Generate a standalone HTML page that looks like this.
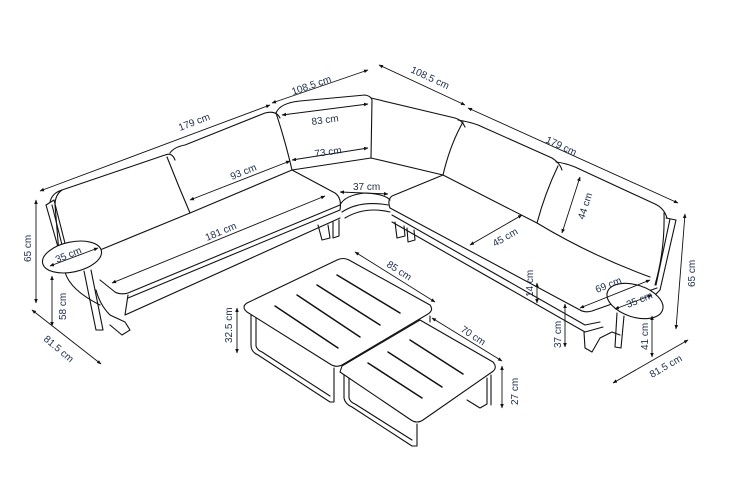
<!DOCTYPE html>
<html><head><meta charset="utf-8"><style>
html,body{margin:0;padding:0;background:#fff;}
svg{display:block;}
text{font-family:"Liberation Sans",sans-serif;font-size:10px;fill:#1c2b4a;}
</style></head><body>
<svg width="732" height="481" viewBox="0 0 732 481" xmlns="http://www.w3.org/2000/svg">
<defs>
<marker id="a" viewBox="0 0 10 10" refX="9" refY="5" markerWidth="5" markerHeight="5" orient="auto-start-reverse"><path d="M0,1 L10,5 L0,9 z" fill="#111"/></marker>
</defs>
<g fill="none" stroke="#111" stroke-width="1.1" stroke-linejoin="round" stroke-linecap="round">
<!-- left sofa back cushions -->
<path d="M50,202 Q52,193 62,190 L165,155 Q172,152 175,160"/>
<path d="M170,153 Q174,147 185,145 L265,113 Q276,110 280,118"/>
<path d="M62,190 Q55,195 55,205 L60,265"/>
<path d="M167,157 Q178,185 190,213"/>
<path d="M276,113 Q285,140 292,170"/>
<path d="M190,213 L100,250"/>
<path d="M190,213 L292,170"/>
<!-- left arm -->
<path d="M46,205 L54,200 L70,263"/>
<path d="M46,205 L64,268"/>
<path d="M52,205 L67,265"/>
<!-- left seat -->
<path d="M292,170 L335,193 Q342,198 340,210"/>
<path d="M100,280 L115,292 Q120,295 128,293 L340,205"/>
<path d="M128,295 L125,315 L340,218"/>
<path d="M128,298 L340,210"/>
<path d="M96,290 Q100,305 110,315 L125,322 L130,330 L122,335 L110,325"/>
<path d="M318,225 L322,240 L330,238 L328,225"/>
<path d="M333,222 L333,238 L339,236 L339,220"/>
<!-- corner -->
<path d="M276,113 Q280,103 300,101 L365,95 Q371,96 372,100 L371,158"/>
<path d="M292,170 L371,158 L443,175"/>
<path d="M340,205 Q345,195 365,193 Q385,194 390,200"/>
<path d="M342,212 Q360,200 388,205"/>
<path d="M345,218 Q365,206 390,212"/>
<!-- right sofa -->
<path d="M371,98 L455,118 Q462,120 465,127"/>
<path d="M458,120 Q470,122 478,125 L552,158 Q560,163 562,170"/>
<path d="M556,162 Q565,163 575,167 L655,204 Q664,208 667,218"/>
<path d="M463,122 Q450,145 443,175"/>
<path d="M558,166 Q545,193 537,223"/>
<path d="M443,175 L537,223 Q590,255 650,277"/>
<path d="M664,213 Q665,250 655,285"/>
<path d="M666,218 L676,220 L660,290 L655,295"/>
<path d="M670,219 L656,285"/>
<path d="M443,175 L392,196 Q387,200 390,208"/>
<path d="M390,208 L580,310 Q585,313 592,311 L657,288"/>
<path d="M392,215 L585,325 L600,322"/>
<path d="M392,222 L585,332 L603,327"/>
<path d="M395,222 L397,238 L405,236 L404,226"/>
<path d="M407,228 L408,242 L415,240 L414,230"/>
<path d="M584,332 L585,348 L592,352 L600,338 L612,332 L620,335"/>
<!-- side tables -->
<path d="M65,272 Q70,290 100,305"/>
<path d="M84,271 L96,330 L103,330 L91,270"/>
<ellipse cx="72" cy="257" rx="30" ry="15" transform="rotate(-12 72 257)" fill="#fff"/>
<path d="M617,313 L615,347 L621,348 L624,316"/>
<ellipse cx="635" cy="301" rx="29" ry="16" transform="rotate(18 635 301)" fill="#fff"/>
<!-- small coffee table -->
<path d="M344,372 L344,398 Q345,404 352,407 L412,446 L417,446 L417,424"/>
<path d="M349,375 L349,398 Q350,402 355,404 L412,440"/>
<path d="M487,378 L487,404 L480,408 L467,400"/>
<path d="M491,375 L491,405"/>
<path d="M342,366 L420,320 L493,362 Q498,368 492,372 L423,420 Q417,424 411,420 L340,372 z" fill="#fff"/>
<path d="M368,363 L422,398 M388,352 L442,387 M410,340 L463,374" stroke-width="1.5"/>
<!-- big coffee table -->
<path d="M251,315 L251,345 Q251,352 258,355 L330,402 L334,402 L334,368"/>
<path d="M256,318 L256,346 Q257,350 262,352 L330,396"/>
<path d="M430,316 L430,322"/>
<path d="M247,303 L337,260 Q343,257 349,260 L430,305 Q434,310 428,314 L342,365 Q336,368 330,364 L247,312 Q241,307 247,303 z" fill="#fff"/>
<path d="M275,306 L338,348 M297,295 L360,337 M317,285 L380,325 M337,275 L400,313" stroke-width="1.5"/>
</g>
<!-- dimension lines -->
<g fill="none" stroke="#111" stroke-width="0.9" marker-start="url(#a)" marker-end="url(#a)">
<line x1="40" y1="191" x2="270" y2="105"/>
<line x1="272" y1="103" x2="368" y2="70"/>
<line x1="379" y1="65" x2="465" y2="105"/>
<line x1="468" y1="108" x2="678" y2="203"/>
<line x1="282" y1="115" x2="368" y2="104"/>
<line x1="292" y1="160" x2="368" y2="148"/>
<line x1="190" y1="200" x2="290" y2="161"/>
<line x1="340" y1="192" x2="388" y2="194"/>
<line x1="112" y1="283" x2="325" y2="196"/>
<line x1="36" y1="200" x2="36" y2="303"/>
<line x1="50" y1="266" x2="98" y2="248"/>
<line x1="52" y1="276" x2="52" y2="326"/>
<line x1="32" y1="310" x2="101" y2="364"/>
<line x1="355" y1="252" x2="435" y2="302"/>
<line x1="432" y1="318" x2="502" y2="361"/>
<line x1="237" y1="308" x2="237" y2="353"/>
<line x1="502" y1="366" x2="502" y2="408"/>
<line x1="470" y1="245" x2="522" y2="215"/>
<line x1="580" y1="177" x2="562" y2="233"/>
<line x1="537" y1="283" x2="537" y2="303"/>
<line x1="565" y1="304" x2="565" y2="347"/>
<line x1="580" y1="308" x2="650" y2="280"/>
<line x1="615" y1="309" x2="652" y2="295"/>
<line x1="652" y1="316" x2="652" y2="357"/>
<line x1="685" y1="214" x2="676" y2="329"/>
<line x1="613" y1="383" x2="688" y2="340"/>
</g>
<g>
<text transform="translate(180,131) rotate(-21)">179 cm</text>
<text transform="translate(293,95) rotate(-19)">108.5 cm</text>
<text transform="translate(410,72) rotate(25)">108.5 cm</text>
<text transform="translate(545,142) rotate(25)">179 cm</text>
<text transform="translate(312,125) rotate(-8)">83 cm</text>
<text transform="translate(315,157) rotate(-8)">73 cm</text>
<text transform="translate(232,180) rotate(-22)">93 cm</text>
<text transform="translate(353,190)">37 cm</text>
<text transform="translate(207,241) rotate(-23)">181 cm</text>
<text transform="translate(31,262) rotate(-90)">65 cm</text>
<text transform="translate(57,263) rotate(-22)">35 cm</text>
<text transform="translate(66,320) rotate(-90)">58 cm</text>
<text transform="translate(43,340) rotate(40)">81.5 cm</text>
<text transform="translate(386,266) rotate(33)">85 cm</text>
<text transform="translate(460,331) rotate(33)">70 cm</text>
<text transform="translate(232,343) rotate(-90)">32.5 cm</text>
<text transform="translate(518,405) rotate(-90)">27 cm</text>
<text transform="translate(495,247) rotate(-30)">45 cm</text>
<text transform="translate(584,220) rotate(-72)">44 cm</text>
<text transform="translate(533,297) rotate(-90)">14 cm</text>
<text transform="translate(561,348) rotate(-90)">37 cm</text>
<text transform="translate(597,293) rotate(-22)">69 cm</text>
<text transform="translate(628,308) rotate(-22)">35 cm</text>
<text transform="translate(648,350) rotate(-90)">41 cm</text>
<text transform="translate(695,287) rotate(-90)">65 cm</text>
<text transform="translate(652,378) rotate(-30)">81.5 cm</text>
</g>
</svg>
</body></html>
